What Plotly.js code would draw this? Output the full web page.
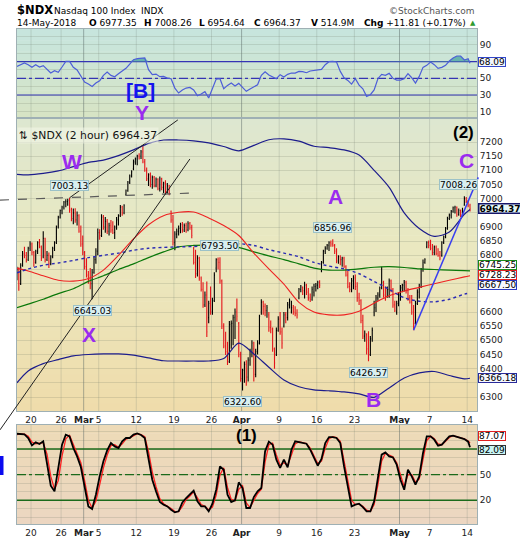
<!DOCTYPE html>
<html>
<head>
<meta charset="utf-8">
<script src="https://cdn.plot.ly/plotly-3.0.1.min.js"></script>
<style>
  html, body { margin: 0; padding: 0; background: #ffffff; }
  #chart { width: 520px; height: 540px; }
</style>
</head>
<body>
<div id="chart"></div>
<script>
// ---------------- price bars: 2-hour sessions, four per trading day ----------------
// (the first trading day, Feb 15, only contributes its last two sessions)
const open = [
  6725, 6750,
  6700, 6765, 6805, 6800,   6785, 6825, 6840, 6810,   6775, 6815, 6845, 6830,
  6795, 6860, 6785, 6800,   6770, 6795, 6825, 6845,   6900, 6935, 6958, 6970,
  6988, 6990, 6995, 6960,   6930, 6950, 6925, 6940,   6885, 6840, 6810, 6760,
  6730, 6715, 6700, 6740,   6785, 6815, 6880, 6870,   6935, 6900, 6920, 6885,
  6905, 6890, 6880, 6900,   6925, 6940, 6970, 6950,   7015, 7028, 7058, 7080,
  7105, 7130, 7140, 7150,   7150, 7165, 7130, 7100,   7070, 7085, 7050, 7075,
  7045, 7068, 7035, 7070,   7040, 7055, 7025, 7045,   6955, 6925, 6845, 6875,
  6885, 6895, 6908, 6890,   6905, 6890, 6912, 6898,   6825, 6775, 6735, 6790,
  6720, 6680, 6625, 6660,   6580, 6630, 6600, 6640,   6755, 6785, 6775, 6710,
  6550, 6480, 6460, 6425,   6555, 6560, 6580, 6600,   6560, 6450, 6365, 6395,
  6415, 6370, 6430, 6460,   6470, 6380, 6460, 6490,   6600, 6635, 6620, 6605,
  6590, 6545, 6540, 6470,   6450, 6535, 6575, 6530,   6550, 6590, 6580, 6625,
  6600, 6615, 6600, 6595,   6650, 6680, 6688, 6675,   6695, 6670, 6650, 6645,
  6670, 6690, 6695, 6705,   6745, 6775, 6815, 6825,   6835, 6845, 6840, 6835,
  6815, 6780, 6795, 6785,   6790, 6760, 6730, 6690,   6680, 6710, 6720, 6690,
  6650, 6640, 6570, 6515,   6520, 6470, 6450, 6505,   6600, 6615, 6650, 6660,
  6685, 6705, 6660, 6655,   6680, 6710, 6680, 6625,   6600, 6630, 6660, 6685,
  6695, 6705, 6675, 6650,   6635, 6600, 6560, 6630,   6670, 6690, 6750, 6775,
  6830, 6845, 6835, 6825,   6810, 6830, 6805, 6800,   6800, 6845, 6865, 6895,
  6930, 6942, 6955, 6968,   6970, 6945, 6958, 6942,   6977.35, 7000, 6990, 6975
];
const high = [
  6760, 6758,
  6772, 6815, 6830, 6812,   6830, 6850, 6845, 6815,   6820, 6850, 6858, 6835,
  6885, 6862, 6815, 6810,   6800, 6830, 6850, 6905,   6940, 6962, 6975, 6992,
  6998, 7000, 7003.13, 6968, 6965, 6966, 6955, 6945,  6905, 6870, 6815, 6790,
  6745, 6755, 6752, 6795,   6825, 6895, 6892, 6945,   6942, 6935, 6928, 6915,
  6925, 6920, 6905, 6935,   6945, 6978, 6975, 6980,   7032, 7062, 7085, 7100,
  7138, 7145, 7155, 7160,   7172, 7187, 7140, 7110,   7090, 7092, 7082, 7080,
  7075, 7072, 7078, 7074,   7060, 7065, 7055, 7048,   6958, 6942, 6885, 6895,
  6905, 6915, 6918, 6912,   6915, 6920, 6918, 6908,   6830, 6820, 6800, 6795,
  6725, 6705, 6672, 6708,   6640, 6690, 6650, 6740,   6790, 6792, 6793.50, 6715,
  6560, 6530, 6495, 6568,   6570, 6590, 6612, 6648,   6565, 6460, 6400, 6425,
  6430, 6440, 6470, 6500,   6495, 6470, 6500, 6590,   6645, 6640, 6630, 6625,
  6600, 6570, 6545, 6475,   6545, 6585, 6600, 6545,   6600, 6600, 6635, 6648,
  6640, 6625, 6620, 6610,   6685, 6695, 6690, 6707,   6700, 6685, 6665, 6690,
  6700, 6702, 6710, 6712,   6780, 6820, 6832, 6840,   6850, 6852, 6856.96, 6840,
  6825, 6800, 6800, 6795,   6795, 6765, 6745, 6705,   6720, 6730, 6732, 6705,
  6668, 6645, 6590, 6535,   6525, 6532, 6515, 6545,   6640, 6660, 6670, 6690,
  6760, 6710, 6690, 6690,   6718, 6715, 6685, 6640,   6640, 6670, 6695, 6700,
  6713, 6710, 6685, 6660,   6660, 6625, 6640, 6680,   6700, 6755, 6785, 6790,
  6850, 6852, 6855, 6840,   6835, 6835, 6825, 6815,   6850, 6870, 6900, 6936,
  6948, 6960, 6972, 6975,   6972, 6965, 6962, 6968,   7008.26, 7006, 6995, 6982
];
const low = [
  6712, 6675,
  6695, 6760, 6790, 6775,   6780, 6815, 6800, 6760,   6770, 6805, 6825, 6780,
  6790, 6775, 6780, 6755,   6765, 6790, 6815, 6840,   6895, 6930, 6945, 6962,
  6970, 6975, 6950, 6920,   6910, 6915, 6905, 6880,   6830, 6800, 6750, 6722,
  6700, 6680, 6645.03, 6735, 6770, 6800, 6855, 6865,  6890, 6880, 6875, 6870,
  6880, 6875, 6858, 6890,   6905, 6935, 6940, 6945,   7010, 7024, 7052, 7075,
  7100, 7120, 7118, 7138,   7140, 7125, 7095, 7062,   7045, 7040, 7035, 7040,
  7040, 7030, 7025, 7030,   7020, 7015, 7018, 7012,   6915, 6835, 6818, 6860,
  6870, 6878, 6880, 6882,   6880, 6885, 6890, 6860,   6768, 6720, 6725, 6710,
  6672, 6615, 6618, 6512,   6560, 6590, 6590, 6635,   6740, 6750, 6700, 6540,
  6472, 6448, 6413, 6420,   6470, 6483, 6505, 6566,   6440, 6354, 6322.60, 6350,
  6340, 6355, 6410, 6440,   6355, 6370, 6450, 6485,   6590, 6590, 6585, 6580,
  6530, 6525, 6460, 6400,   6445, 6530, 6520, 6470,   6545, 6560, 6570, 6612,
  6595, 6590, 6585, 6577,   6645, 6670, 6660, 6648,   6660, 6640, 6635, 6640,
  6655, 6672, 6680, 6685,   6740, 6770, 6805, 6820,   6815, 6830, 6830, 6805,
  6772, 6770, 6765, 6760,   6755, 6725, 6684, 6670,   6670, 6680, 6678, 6636,
  6625, 6560, 6505, 6495,   6450, 6426.57, 6445, 6495, 6585, 6600, 6640, 6650,
  6680, 6650, 6640, 6650,   6650, 6670, 6615, 6600,   6590, 6620, 6640, 6670,
  6672, 6665, 6640, 6630,   6590, 6536, 6555, 6625,   6648, 6685, 6742, 6770,
  6825, 6825, 6818, 6800,   6800, 6800, 6795, 6783,   6795, 6840, 6860, 6890,
  6925, 6930, 6950, 6948,   6936, 6940, 6935, 6938,   6975, 6985, 6970, 6954.64
];
const close = [
  6750, 6700,
  6765, 6805, 6800, 6785,   6825, 6840, 6810, 6775,   6815, 6845, 6830, 6790,
  6860, 6785, 6800, 6770,   6795, 6825, 6845, 6900,   6935, 6958, 6970, 6988,
  6990, 6995, 6960, 6930,   6950, 6925, 6940, 6885,   6840, 6810, 6760, 6730,
  6715, 6700, 6740, 6785,   6815, 6880, 6870, 6935,   6900, 6920, 6885, 6905,
  6890, 6880, 6900, 6925,   6940, 6970, 6950, 6975,   7028, 7058, 7080, 7095,
  7130, 7140, 7150, 7148,   7165, 7130, 7100, 7070,   7085, 7050, 7075, 7045,
  7068, 7035, 7070, 7040,   7055, 7025, 7045, 7020,   6925, 6845, 6875, 6885,
  6895, 6908, 6890, 6905,   6890, 6912, 6898, 6870,   6775, 6735, 6790, 6720,
  6680, 6625, 6660, 6530,   6630, 6600, 6640, 6730,   6785, 6775, 6710, 6550,
  6480, 6460, 6425, 6555,   6560, 6580, 6600, 6585,   6450, 6365, 6395, 6415,
  6370, 6430, 6460, 6490,   6380, 6460, 6490, 6585,   6635, 6620, 6605, 6615,
  6545, 6540, 6470, 6420,   6535, 6575, 6530, 6490,   6590, 6580, 6625, 6640,
  6615, 6600, 6595, 6590,   6680, 6688, 6675, 6695,   6670, 6650, 6645, 6680,
  6690, 6695, 6705, 6695,   6775, 6815, 6825, 6835,   6845, 6840, 6835, 6815,
  6780, 6795, 6785, 6790,   6760, 6730, 6690, 6680,   6710, 6720, 6690, 6650,
  6640, 6570, 6515, 6525,   6470, 6450, 6505, 6535,   6615, 6650, 6660, 6685,
  6705, 6660, 6655, 6680,   6710, 6680, 6625, 6605,   6630, 6660, 6685, 6695,
  6705, 6675, 6650, 6635,   6600, 6560, 6630, 6670,   6690, 6750, 6775, 6785,
  6845, 6835, 6825, 6810,   6830, 6805, 6800, 6790,   6845, 6865, 6895, 6930,
  6942, 6955, 6968, 6970,   6945, 6958, 6942, 6952.56, 7000, 6990, 6975, 6964.37
];
const volumeText = '514.9M';

// ---------------- price overlays, one reading every second trading day ----------------
const bbUpper   = [7086, 7084, 7089, 7098, 7113, 7128, 7136, 7152, 7172, 7195, 7207, 7207, 7204, 7197, 7184, 7169,
                   7188, 7208, 7211, 7203, 7185, 7180, 7172, 7154, 7100, 7040, 6950, 6895, 6867, 6882, 6945, 6962];
const bbLower   = [6350, 6392, 6418, 6432, 6445, 6450, 6452, 6452, 6448, 6438, 6428, 6427, 6427, 6427, 6436, 6490,
                   6452, 6405, 6360, 6336, 6325, 6322, 6318, 6311, 6299, 6332, 6367, 6385, 6390, 6376, 6364, 6366.18];
const maRed     = [6754, 6745, 6728, 6712, 6709, 6718, 6748, 6800, 6858, 6908, 6940, 6952, 6953, 6932, 6905, 6870,
                   6808, 6752, 6698, 6634, 6600, 6590, 6590, 6603, 6631, 6657, 6674, 6687, 6700, 6712, 6724, 6728.23];
const maGreen   = [6615, 6628, 6645, 6665, 6682, 6708, 6728, 6750, 6770, 6792, 6812, 6830, 6835, 6836, 6836, 6828,
                   6812, 6798, 6785, 6770, 6755, 6748, 6748, 6752, 6758, 6760, 6757, 6752, 6750, 6748, 6746, 6745.25];
const maBlueDot = [6738, 6752, 6765, 6773, 6782, 6792, 6800, 6808, 6818, 6825, 6828, 6830, 6831, 6834, 6838, 6841,
                   6835, 6820, 6808, 6795, 6775, 6762, 6752, 6735, 6708, 6680, 6650, 6638, 6636, 6645, 6663, 6667.50];

// ---------------- indicators, one reading every half trading day ----------------
const rsi = [
  64.3, 66.7, 68.3, 66.3, 63.1, 66.3, 63.5, 65.1, 60.3, 56.3, 59.1, 57.1, 63.5, 70.3, 70.3, 63.1,
  59.9, 52.3, 45.5, 43.1, 40.3, 44.3, 47.1, 53.5, 57.5, 53.5, 51.9, 55.5, 59.1, 61.9, 67.1, 72.3,
  73.5, 74.3, 74.3, 60.3, 54.3, 55.1, 51.9, 52.3, 50.3, 49.5, 38.3, 32.4, 36.0, 38.3, 39.1, 36.0,
  29.2, 31.2, 34.0, 26.4, 37.1, 49.1, 49.5, 37.5, 41.5, 44.3, 40.7, 43.9, 39.1, 34.4, 37.1, 39.9,
  42.3, 53.5, 57.9, 53.9, 51.9, 49.5, 54.3, 51.5, 54.7, 56.3, 56.3, 58.3, 57.9, 56.7, 58.7, 59.5,
  59.9, 60.7, 66.3, 69.9, 70.3, 69.5, 58.3, 50.7, 47.5, 43.1, 49.5, 41.9, 37.5, 28.4, 30.4, 36.0,
  49.5, 54.7, 53.5, 55.9, 49.9, 47.9, 47.9, 49.5, 55.5, 50.7, 44.3, 52.3, 63.1, 65.5, 69.5, 66.3,
  61.9, 63.1, 65.5, 70.7, 74.3, 76.7, 76.7, 71.9, 73.5, 68.09
];
const stochK = [
  97.9, 97.5, 97.1, 92.9, 84.3, 87.8, 85.8, 89.0, 64.4, 37.1, 30.5, 55.8, 85.1, 96.8, 94.8, 81.2,
  71.4, 58.9, 34.4, 12.9, 9.8, 26.6, 48.0, 65.6, 78.4, 87.0, 83.1, 81.2, 89.0, 92.9, 92.9, 96.8,
  98.3, 96.4, 92.9, 67.5, 44.1, 30.5, 18.0, 14.9, 12.9, 9.0, 5.9, 7.1, 17.6, 22.7, 26.6, 31.3,
  18.8, 12.9, 12.9, 7.1, 16.0, 32.4, 59.7, 55.8, 26.6, 18.0, 20.0, 41.0, 34.4, 11.0, 11.0, 23.8,
  30.5, 34.4, 77.3, 88.6, 85.1, 67.5, 57.8, 67.5, 58.5, 79.2, 89.0, 87.8, 87.0, 86.2, 79.2, 69.5,
  60.5, 68.3, 87.0, 94.0, 94.0, 92.9, 87.0, 59.7, 36.3, 12.9, 14.9, 16.0, 12.1, 7.1, 7.1, 18.8,
  46.1, 73.4, 76.1, 71.4, 70.2, 61.7, 44.1, 32.4, 55.8, 48.0, 38.3, 48.0, 75.3, 94.8, 94.8, 90.9,
  83.9, 85.1, 90.1, 94.8, 95.6, 94.0, 92.9, 91.7, 88.6, 82.09
];
const stochD = [
  97.0, 97.6, 97.3, 95.0, 88.0, 86.0, 86.8, 87.5, 74.0, 48.0, 33.0, 43.0, 72.0, 92.0, 96.0, 86.0,
  75.0, 64.0, 43.0, 20.0, 11.0, 19.0, 38.0, 58.0, 73.0, 84.0, 85.0, 82.0, 86.0, 91.5, 93.0, 95.5,
  98.0, 97.0, 94.5, 77.0, 53.0, 36.0, 22.0, 16.0, 13.5, 10.5, 7.0, 6.8, 13.0, 21.0, 25.0, 30.0,
  23.0, 15.0, 13.0, 9.0, 12.0, 26.0, 50.0, 58.0, 35.0, 21.0, 19.5, 33.0, 37.0, 17.0, 11.5, 19.0,
  28.0, 33.0, 65.0, 85.0, 87.0, 73.0, 61.0, 64.0, 61.0, 73.0, 86.0, 88.5, 87.5, 86.5, 81.0, 72.0,
  63.0, 66.0, 81.0, 92.0, 94.3, 93.5, 89.0, 66.0, 43.0, 20.0, 15.0, 15.5, 13.0, 8.5, 7.0, 15.0,
  38.0, 66.0, 75.0, 73.0, 71.0, 64.0, 49.0, 36.0, 50.0, 50.0, 41.0, 45.0, 68.0, 90.0, 95.0, 92.0,
  86.0, 85.0, 89.0, 93.5, 95.5, 94.5, 93.3, 92.0, 89.5, 87.07
];
const rsiLevels = [70, 50, 30];
const stochLevels = [80, 50, 20];

// ---------------- axis labels and marked extremes ----------------
const tickDays = [0, 4, 7, 9, 14, 19, 24, 28, 33, 38, 43, 49, 53, 58];   // trading-day index, Feb 20 = 0
const tickText = ['20', '26', 'Mar', '5', '12', '19', '26', 'Apr', '9', '16', '23', 'May', '7', '14'];
const monthNames = ['Mar', 'Apr', 'May'];
const priceTicks = [6300, 6350, 6400, 6450, 6500, 6550, 6600, 6650, 6700, 6750, 6800, 6850,
                    6900, 6950, 7000, 7050, 7100, 7150, 7200];
const priceTicksCovered = [6350, 6650, 6700, 6750, 6950];   // sit under the last-value boxes
const rsiTickLabels = [10, 30, 50, 90];
const stochTickLabels = [20, 50];
const highLabels = [7003.13, 6793.50, 6856.96, 7008.26];
const lowLabels = [6645.03, 6322.60, 6426.57];

// hand-drawn trend lines: [trading-day index, price]
const trendUpper = { x: [5.5, 19.9], y: [7003.13, 7278] };
const trendLower = { x: [-3.75, 21.5], y: [6184, 7140] };
const trendFlat  = { x: [-3.75, 21.9], y: [6995, 7020] };
const trendWave  = { x: [51.25, 59.85], y: [6536, 7075] };

// ---------------- geometry ----------------
const W = 520, H = 540;
const M = { l: 17, r: 43, t: 29, b: 16 };
const PW = W - M.l - M.r, PH = H - M.t - M.b;
const px = v => (v - M.l) / PW;          // pixel column -> paper x
const py = v => (H - M.b - v) / PH;      // pixel row    -> paper y
const rsiDom = [py(118), py(29)];
const mainDom = [py(411), py(118)];
const stoDom = [py(524), py(425)];
const xRange = [-1.49, 59.68];
const priceRange = [6250.6, 7284.7];
const rsiRange = [2.5, 109];
const stoRange = [-7.7, 108.1];

// bar positions: four sessions per day
const barX = [];
for (let d = -2; d <= 58; d++) {
  for (let k = 0; k < 4; k++) {
    if (d === -2 && k < 2) continue;
    barX.push(d + k / 4);
  }
}
const indX = rsi.slice(0, -1).map((_, i) => -1.5 + 0.5 * i).concat([58.75]);
const maX = [-1.5];
for (let d = 0; d <= 58; d += 2) maX.push(d);
maX.push(58.75);

const FONT = 'DejaVu Sans, Verdana, sans-serif';
const tickVals = tickDays.map(d => d + 0.375);
const tickLabels = tickText.map(t => monthNames.includes(t) ? '<b>' + t + '</b>' : t);

// ---------------- traces ----------------
const traces = [];
const line = (x, y, xa, ya, color, width, dash, extra) =>
  Object.assign({ type: 'scatter', mode: 'lines', x, y, xaxis: xa, yaxis: ya,
    line: { color, width, dash: dash || 'solid' }, hoverinfo: 'skip', showlegend: false }, extra || {});

// RSI panel
rsiLevels.forEach(v => traces.push(line(xRange, [v, v], 'x', 'y', '#3434b4', 1.2, v === 50 ? 'dashdot' : 'solid')));
traces.push(line(indX, indX.map(() => 70), 'x', 'y', 'rgba(0,0,0,0)', 0));
traces.push(line(indX, rsi.map(v => Math.max(v, 70)), 'x', 'y', 'rgba(0,0,0,0)', 0, null,
  { fill: 'tonexty', fillcolor: 'rgba(86,172,166,0.85)' }));
traces.push(line(indX, rsi, 'x', 'y', '#4d5ed8', 1.2));

// price panel
traces.push({
  type: 'ohlc', x: barX, open, high, low, close, xaxis: 'x2', yaxis: 'y2',
  increasing: { line: { color: '#000000', width: 1.1 } },
  decreasing: { line: { color: '#e4141a', width: 1.1 } },
  tickwidth: 0.35, hoverinfo: 'skip', showlegend: false
});
[[bbUpper, '#1c1c8c', 1.2, 'solid'], [bbLower, '#1c1c8c', 1.2, 'solid'],
 [maGreen, '#0a780a', 1.2, 'solid'], [maRed, '#ee2222', 1.1, 'solid'],
 [maBlueDot, '#2a2ab4', 1.4, 'dot']].forEach(([arr, c, w, dsh]) => {
  const t = line(maX, arr, 'x2', 'y2', c, w, dsh);
  t.line.shape = 'spline';
  t.line.smoothing = 0.8;
  traces.push(t);
});

// stochastic panel
stochLevels.forEach(v => traces.push(line(xRange, [v, v], 'x3', 'y3', '#1b6a1b', 1.4, v === 50 ? 'dashdot' : 'solid')));
traces.push(line(indX, stochD, 'x3', 'y3', '#ff2222', 1.3));
traces.push(line(indX, stochK, 'x3', 'y3', '#000000', 1.8));

// ---------------- shapes ----------------
const shapes = [];
function mix(stops, t) {
  for (let i = 1; i < stops.length; i++) {
    if (t <= stops[i][0]) {
      const a = stops[i - 1], b = stops[i];
      const f = (t - a[0]) / (b[0] - a[0]);
      const c = a[1].map((v, j) => Math.round(v + (b[1][j] - v) * f));
      return 'rgb(' + c.join(',') + ')';
    }
  }
  return 'rgb(' + stops[stops.length - 1][1].join(',') + ')';
}
function gradient(top, bottom, stops, n) {
  for (let i = 0; i < n; i++) {
    const y0 = top + (bottom - top) * i / n;
    const y1 = top + (bottom - top) * (i + 1) / n + 0.6;
    shapes.push({ type: 'rect', xref: 'paper', yref: 'paper', x0: 0, x1: 1,
      y0: py(Math.min(y1, bottom)), y1: py(y0), fillcolor: mix(stops, (i + 0.5) / n),
      line: { width: 0 }, layer: 'below' });
  }
}
gradient(29, 118, [[0, [198, 229, 222]], [0.5, [207, 229, 210]], [1, [216, 228, 196]]], 16);
gradient(118, 411, [[0, [221, 231, 208]], [0.45, [234, 232, 192]], [1, [239, 220, 171]]], 40);
gradient(425, 524, [[0, [237, 218, 183]], [1, [236, 214, 193]]], 12);

// vertical grid: weekly lines, darker month lines
[['x', rsiDom], ['x2', mainDom], ['x3', stoDom]].forEach(([xa, dom]) => {
  tickVals.forEach((v, i) => {
    const month = monthNames.includes(tickText[i]);
    shapes.push({ type: 'line', xref: xa, yref: 'paper', x0: v, x1: v, y0: dom[0], y1: dom[1],
      line: { color: month ? 'rgba(80,95,95,0.45)' : 'rgba(110,125,115,0.22)', width: 1 }, layer: 'below' });
  });
});

// trend lines (price panel), allowed to run past the plot frame
const toPX = x => (x - xRange[0]) / (xRange[1] - xRange[0]);
const toPY = p => mainDom[0] + (p - priceRange[0]) / (priceRange[1] - priceRange[0]) * (mainDom[1] - mainDom[0]);
function trend(t, color, width, dash) {
  shapes.push({ type: 'line', xref: 'paper', yref: 'paper',
    x0: toPX(t.x[0]), y0: toPY(t.y[0]), x1: toPX(t.x[1]), y1: toPY(t.y[1]),
    line: { color, width, dash: dash || 'solid' } });
}
trend(trendFlat, '#5a5a5a', 1.2, 'dash');
trend(trendUpper, '#222222', 1);
trend(trendLower, '#222222', 1);
trend(trendWave, '#3a40f0', 1.5);

// marker at the far left edge
shapes.push({ type: 'rect', xref: 'paper', yref: 'paper', x0: px(0), x1: px(3.5), y0: py(475), y1: py(456),
  fillcolor: '#0a0af0', line: { width: 0 } });

// ---------------- annotations ----------------
const ann = [];
const txt = (x, y, text, size, color, opts) => ann.push(Object.assign({
  xref: 'paper', yref: 'paper', x: px(x), y: py(y), text, showarrow: false,
  xanchor: 'left', yanchor: 'middle', font: { family: FONT, size, color } }, opts || {}));

// header
const n = close.length;
const dO = open[n - 4], dH = Math.max(...high.slice(-4)), dL = Math.min(...low.slice(-4)), dC = close[n - 1];
const prev = close[n - 5], chg = dC - prev, pct = chg / prev * 100;
txt(15, 10, '<b>$NDX</b>', 11.5, '#000');
txt(52, 10.5, 'Nasdaq 100 Index', 9, '#000');
txt(139, 10.5, 'INDX', 9, '#000');
txt(476, 10.5, '\u00a9StockCharts.com', 9, '#555', { xanchor: 'right' });
txt(15, 22.5, '14-May-2018', 9, '#000');
txt(87, 22.5, '<b>O</b> ' + dO.toFixed(2), 9, '#000');
txt(142, 22.5, '<b>H</b> ' + dH.toFixed(2), 9, '#000');
txt(197, 22.5, '<b>L</b> ' + dL.toFixed(2), 9, '#000');
txt(252, 22.5, '<b>C</b> ' + dC.toFixed(2), 9, '#000');
txt(309, 22.5, '<b>V</b> ' + volumeText, 9, '#000');
txt(362, 22.5, '<b>Chg</b> ' + (chg >= 0 ? '+' : '') + chg.toFixed(2) + ' (' + (pct >= 0 ? '+' : '') + pct.toFixed(2) + '%)', 9, '#000');
txt(468, 22.5, '\u25b2', 7, '#2f9a2f');

// chart legend inside the price panel
txt(17, 135, '\u21c5 $NDX (2 hour) ' + dC.toFixed(2), 10.8, '#111',
  { bgcolor: 'rgba(244,247,234,0.55)', borderpad: 1 });

// wave labels
const PURPLE = '#9a2bef';
const wave = (x, y, t, color, size) => txt(x, y, '<b>' + t + '</b>', size, color,
  { xanchor: 'center', font: { family: 'Liberation Sans, Arial, sans-serif', size, color } });
wave(72, 162, 'W', PURPLE, 21);
wave(89, 334, 'X', PURPLE, 21);
wave(142, 113, 'Y', PURPLE, 21);
wave(140.5, 90, '[B]', '#1414ee', 21);
wave(335, 197, 'A', PURPLE, 21);
wave(373, 400, 'B', PURPLE, 21);
wave(466, 160, 'C', PURPLE, 21);
wave(463, 132, '(2)', '#000', 17);
wave(246, 435, '(1)', '#000', 17);

// extreme price callouts
const callout = (v, up) => {
  const idx = up ? high.indexOf(v) : low.indexOf(v);
  const nearEdge = barX[idx] > 57;
  ann.push({ xref: 'x2', yref: 'y2', x: barX[idx], y: v, yshift: up ? 12 : -11, xshift: nearEdge ? -6 : 0,
    text: v.toFixed(2), showarrow: false, xanchor: 'center', yanchor: 'middle',
    font: { family: FONT, size: 9, color: '#000' }, bgcolor: '#d9eff0', bordercolor: '#9cc2c8',
    borderwidth: 1, borderpad: 0, height: 9 });
};
highLabels.forEach(v => callout(v, true));
lowLabels.forEach(v => callout(v, false));

// last-value boxes on the right edge
const valueBox = (yref, v, shift, border, bg, bold, bw) => ann.push({
  xref: 'paper', x: 1, xanchor: 'left', xshift: 1, yref, y: v, yanchor: 'middle', yshift: shift,
  text: bold ? '<b>' + v.toFixed(2) + '</b>' : v.toFixed(2), showarrow: false,
  font: { family: FONT, size: 9, color: '#000' }, bgcolor: bg, bordercolor: border,
  borderwidth: bw || 1, borderpad: 0, height: 8 });
valueBox('y', rsi[rsi.length - 1], 1, '#3346c8', '#f2f6ff');
valueBox('y2', maGreen[maGreen.length - 1], 5.5, '#1a8a1a', '#ffffff');
valueBox('y2', maRed[maRed.length - 1], 0.5, '#e02020', '#ffffff');
valueBox('y2', maBlueDot[maBlueDot.length - 1], 8, '#2a3ac0', '#f6f8ff');
valueBox('y2', bbLower[bbLower.length - 1], 0, '#2a2a9a', '#f6f8ff');
valueBox('y2', dC, 0, '#16166a', '#e4f8f8', true, 1.5);
valueBox('y3', stochD[stochD.length - 1], 7, '#e02020', '#ffffff');
valueBox('y3', stochK[stochK.length - 1], -3, '#333333', '#c9f5f5');

// ---------------- layout ----------------
const xBase = {
  range: xRange, showgrid: false, zeroline: false, showline: true, mirror: true,
  linecolor: '#9fb0b4', linewidth: 1, tickmode: 'array', tickvals: tickVals, ticktext: tickLabels,
  ticks: '', tickfont: { family: FONT, size: 9, color: '#222' }, fixedrange: true
};
const yBase = {
  side: 'right', zeroline: false, showline: true, mirror: true, linecolor: '#9fb0b4', linewidth: 1,
  ticks: '', tickfont: { family: FONT, size: 9, color: '#222' }, fixedrange: true,
  gridcolor: 'rgba(110,120,100,0.2)', gridwidth: 1
};
const tens = [0, 10, 20, 30, 40, 50, 60, 70, 80, 90, 100];

const layout = {
  width: W, height: H, autosize: false,
  margin: { l: M.l, r: M.r, t: M.t, b: M.b, pad: 0 },
  paper_bgcolor: '#ffffff', plot_bgcolor: 'rgba(0,0,0,0)',
  showlegend: false, hovermode: false,
  xaxis: Object.assign({}, xBase, { anchor: 'y', showticklabels: false }),
  xaxis2: Object.assign({}, xBase, { anchor: 'y2', rangeslider: { visible: false } }),
  xaxis3: Object.assign({}, xBase, { anchor: 'y3' }),
  yaxis: Object.assign({}, yBase, { anchor: 'x', domain: rsiDom, range: rsiRange,
    tickmode: 'array', tickvals: tens, ticktext: tens.map(v => rsiTickLabels.includes(v) ? String(v) : '') }),
  yaxis2: Object.assign({}, yBase, { anchor: 'x2', domain: mainDom, range: priceRange,
    tickmode: 'array', tickvals: priceTicks,
    ticktext: priceTicks.map(v => priceTicksCovered.includes(v) ? '' : String(v)) }),
  yaxis3: Object.assign({}, yBase, { anchor: 'x3', domain: stoDom, range: stoRange,
    tickmode: 'array', tickvals: tens, ticktext: tens.map(v => stochTickLabels.includes(v) ? String(v) : '') }),
  shapes, annotations: ann
};

Plotly.newPlot('chart', traces, layout, { staticPlot: true, displayModeBar: false });
</script>
</body>
</html>
